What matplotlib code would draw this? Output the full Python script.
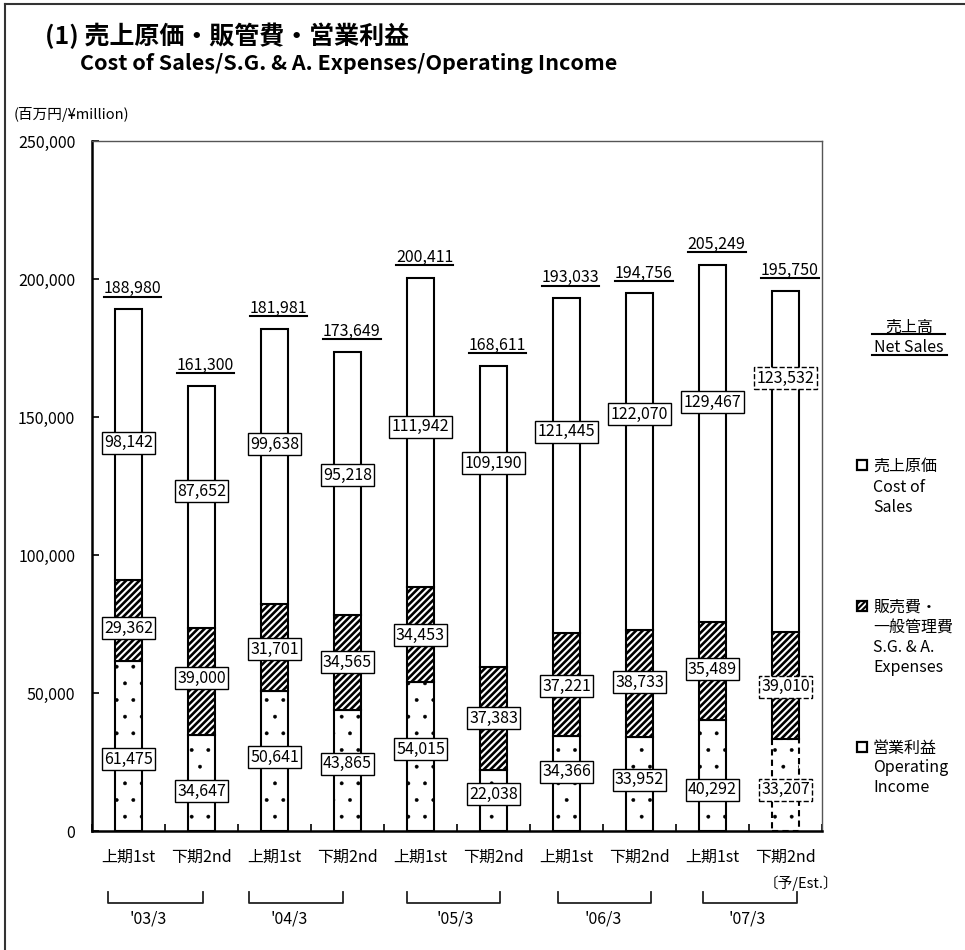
import matplotlib
matplotlib.use('Agg')
import matplotlib.pyplot as plt
from matplotlib.patches import Rectangle
from matplotlib.lines import Line2D
import numpy as np

plt.rcParams['font.family'] = ['Noto Sans CJK JP', 'DejaVu Sans']
plt.rcParams['hatch.linewidth'] = 1.5

# ---------------- data ----------------
periods = ['上期1st', '下期2nd'] * 5
years = ["'03/3", "'04/3", "'05/3", "'06/3", "'07/3"]
op_income = [61475, 34647, 50641, 43865, 54015, 22038, 34366, 33952, 40292, 33207]
sga = [29362, 39000, 31701, 34565, 34453, 37383, 37221, 38733, 35489, 39010]
cost = [98142, 87652, 99638, 95218, 111942, 109190, 121445, 122070, 129467, 123532]
net_sales = [188980, 161300, 181981, 173649, 200411, 168611, 193033, 194756, 205249, 195750]

# label anchor heights (layout, axis units) as placed in the original
lab_op = [26100, 14500, 26800, 24300, 29700, 13400, 21400, 18500, 14900, 14900]
lab_sga = [73500, 55400, 65900, 61200, 71000, 40900, 52500, 54000, 58700, 52200]
lab_cost = [140600, 123200, 140200, 129000, 146400, 133300, 144600, 151100, 155400, 164100]

W, H = 965, 950
fig = plt.figure(figsize=(W / 100, H / 100), dpi=100)


def fx(px):
    return px / W


def fy(py):
    return 1 - py / H


ax = fig.add_axes([fx(92), fy(831), fx(822) - fx(92), fy(141) - fy(831)])
x = np.arange(len(periods))
bw = 0.38
op = np.array(op_income)
sg = np.array(sga)
co = np.array(cost)

with plt.rc_context({'hatch.linewidth': 0.3}):
    b_op = ax.bar(x, op, bw, color='white', edgecolor='black', linewidth=1.5, hatch='.', zorder=2)
for p in b_op:
    if hasattr(p, 'set_hatch_linewidth'):
        p.set_hatch_linewidth(0.3)
with plt.rc_context({'hatch.linewidth': 1.9}):
    b_sg = ax.bar(x, sg, bw, bottom=op, color='white', edgecolor='black', linewidth=1.5, hatch='/////', zorder=2)
for p in b_sg:
    if hasattr(p, 'set_hatch_linewidth'):
        p.set_hatch_linewidth(1.9)
b_co = ax.bar(x, co, bw, bottom=op + sg, color='white', edgecolor='black', linewidth=1.5, zorder=2)
b_op[-1].set_linestyle((0, (3, 2)))

ax.set_xlim(-0.5, len(periods) - 0.5)
ax.set_ylim(0, 250000)
ax.set_yticks(np.arange(0, 250001, 50000))
ax.set_yticklabels([f'{v:,}' for v in range(0, 250001, 50000)], fontsize=11.5)
ax.tick_params(axis='y', direction='in', length=5, width=1.2, pad=12)
ax.set_xticks(np.arange(-0.5, len(periods), 1))
ax.set_xticklabels([])
ax.tick_params(axis='x', which='major', direction='in', length=5, width=1.2)
ax.set_xticks(x, minor=True)
ax.set_xticklabels(periods, minor=True, fontsize=11.5)
ax.tick_params(axis='x', which='minor', length=0, pad=13)
for s in ['left', 'bottom']:
    ax.spines[s].set_linewidth(1.8)
    ax.spines[s].set_color('black')
for s in ['top', 'right']:
    ax.spines[s].set_linewidth(1.0)
    ax.spines[s].set_color('#555555')

# segment labels
for i in range(len(periods)):
    ls = '--' if i == len(periods) - 1 else '-'
    for val, yy in ((op_income[i], lab_op[i]), (sga[i], lab_sga[i]), (cost[i], lab_cost[i])):
        ax.text(i, yy, f'{val:,}', ha='center', va='center', fontsize=11.5, zorder=5,
                bbox=dict(boxstyle='square,pad=0.15', fc='white', ec='black', lw=1.0, linestyle=ls))

# totals with underline
totals = []
for i, v in enumerate(net_sales):
    t = ax.annotate(f'{v:,}', (i, op[i] + sg[i] + co[i]), xytext=(3, 11.5), textcoords='offset points',
                    ha='center', va='baseline', fontsize=11.5)
    totals.append(t)
fig.canvas.draw()
r = fig.canvas.get_renderer()
for ann in totals:
    bb = ann.get_window_extent(r)
    px, py = ax.transData.transform(ann.xy)
    base = py + 11.5 * 100 / 72
    uy = base - 3.5
    fig.add_artist(Line2D([bb.x0 / W, bb.x1 / W], [uy / H, uy / H], color='black', lw=1.5))

# est. note
fig.text(fx(801), fy(883), '〔予/Est.〕', ha='center', va='center', fontsize=10.5)

# year brackets
brackets = [(108, 203), (249, 343), (407, 500), (558, 651), (703, 797)]
ycent = [148, 289, 455, 603, 747]
for (x0, x1), yc, lab in zip(brackets, ycent, years):
    fig.add_artist(Line2D([fx(x0), fx(x0), fx(x1), fx(x1)], [fy(892), fy(903), fy(903), fy(892)],
                          color='#222222', lw=1.3))
    fig.text(fx(yc), fy(919), lab, ha='center', va='center', fontsize=11.5)

# titles
fig.text(fx(45), fy(36), '(1) 売上原価・販管費・営業利益', fontsize=18, fontweight='bold', va='center')
fig.text(fx(80), fy(64), 'Cost of Sales/S.G. & A. Expenses/Operating Income', fontsize=15.5,
         fontweight='bold', va='center')
fig.text(fx(14), fy(115), '(百万円/¥million)', fontsize=10.5, va='center')

# right-side legend
fig.text(fx(909), fy(327), '売上高', ha='center', va='center', fontsize=11.5)
fig.text(fx(909), fy(347), 'Net Sales', ha='center', va='center', fontsize=11.5)
fig.add_artist(Line2D([fx(872), fx(945)], [fy(334), fy(334)], color='black', lw=1.5))
fig.add_artist(Line2D([fx(872), fx(947)], [fy(355), fy(355)], color='black', lw=1.5))


def ltext(py, s):
    fig.text(fx(873), fy(py), s, ha='left', va='center', fontsize=11.5)


def lsquare(py, hatch=None):
    fig.add_artist(Rectangle((fx(857), fy(py + 5)), 10 / W, 10 / H, transform=fig.transFigure,
                             fc='white', ec='black', lw=1.6, hatch=hatch))


lsquare(465)
ltext(466, '売上原価')
ltext(487, 'Cost of')
ltext(507, 'Sales')
lsquare(606, hatch='//////')
ltext(607, '販売費・')
ltext(627, '一般管理費')
ltext(647, 'S.G. & A.')
ltext(667, 'Expenses')
lsquare(747)
ltext(748, '営業利益')
ltext(768, 'Operating')
ltext(788, 'Income')

# outer frame
fig.add_artist(Line2D([fx(5), fx(5)], [fy(4), fy(950)], color='#333333', lw=1.5))
fig.add_artist(Line2D([fx(5), fx(965)], [fy(4), fy(4)], color='#333333', lw=1.5))

fig.savefig('out.png', dpi=100)
